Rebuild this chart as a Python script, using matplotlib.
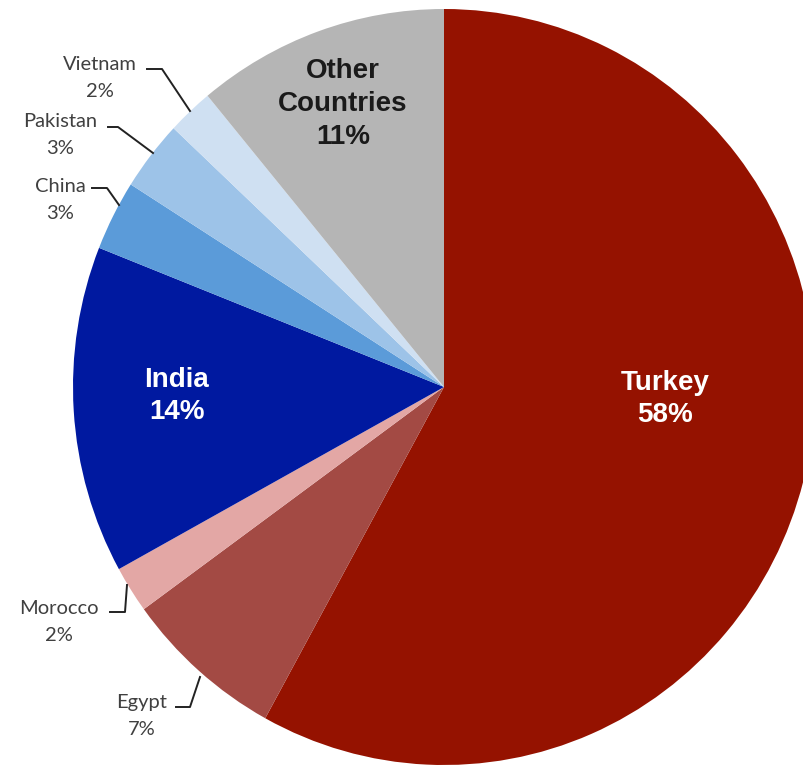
import matplotlib.pyplot as plt

# share of imports by country, clockwise from 12 o'clock
countries = ['Turkey', 'Egypt', 'Morocco', 'India', 'China', 'Pakistan', 'Vietnam', 'Other\nCountries']
shares = [58, 7, 2, 14, 3, 3, 2, 11]
colors = ['#951200', '#a34a44', '#e3a7a5', '#0019a0', '#5b9bd9', '#9dc3e8', '#cfe0f2', '#b5b5b5']

W, H = 804, 770
cx, cy = 444, 387      # pie centre in pixels (from top-left)
rx, ry = 371, 378      # pie is a touch taller than wide

fig = plt.figure(figsize=(W / 100, H / 100), dpi=100)
ax = fig.add_axes([0, 0, 1, 1])
ax.pie(shares, colors=colors, startangle=90, counterclock=False,
       radius=1, wedgeprops=dict(linewidth=0))
ax.set_aspect('auto')
ax.set_xlim(-cx / rx, (W - cx) / rx)
ax.set_ylim(-(H - cy) / ry, cy / ry)
ax.axis('off')

def pos(x, y):
    return (x - cx) / rx, (cy - y) / ry

# big labels inside the slices
inner = {
    'Turkey': ((665, 399), 'white'),
    'India': ((177, 396), 'white'),
    'Other\nCountries': ((343, 104), '#1a1a1a'),
}
for name, ((x, y), c) in inner.items():
    i = countries.index(name)
    ax.text(*pos(x, y), f'{name}\n{shares[i]}%', ha='center', va='center',
            fontsize=20, fontweight='bold', color=c, family='Liberation Sans',
            linespacing=1.33)

# small labels with elbow leader lines
outer = {
    'Vietnam': ((100, 78), [(147, 69), (162, 69), (190, 111)]),
    'Pakistan': ((60, 135), [(108, 127), (118, 127), (153, 153)]),
    'China': ((60, 200), [(92, 188), (107, 188), (119, 205)]),
    'Morocco': ((59, 622), [(110, 612), (125, 612), (127, 585)]),
    'Egypt': ((142, 716), [(176, 707), (190, 707), (200, 677)]),
}
for name, ((x, y), pts) in outer.items():
    i = countries.index(name)
    ax.text(*pos(x, y), f'{name}\n{shares[i]}%', ha='center', va='center',
            fontsize=14.5, color='#404040', family='Lato', linespacing=1.75)
    xs, ys = zip(*[pos(px, py) for px, py in pts])
    ax.plot(xs, ys, color='#222222', lw=1.4)

fig.savefig('out.png', dpi=100)
